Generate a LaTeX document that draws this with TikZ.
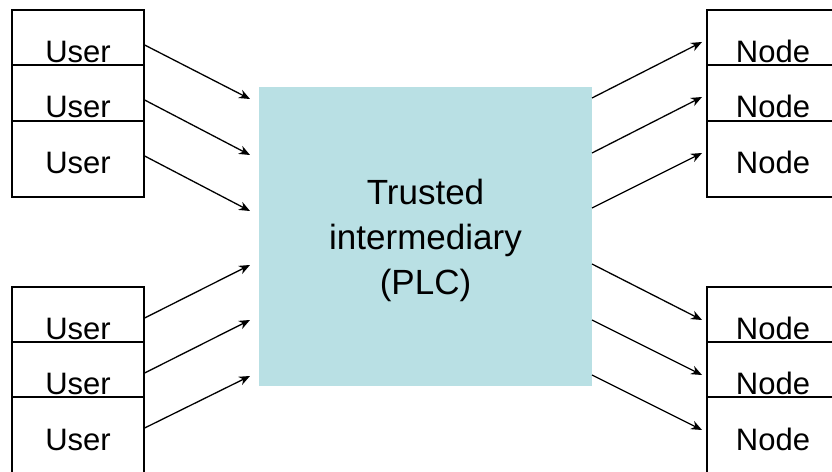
\documentclass[tikz,border=0pt]{standalone}
\usepackage{fontspec}
\setmainfont{Liberation Sans}
\usetikzlibrary{arrows.meta}
\definecolor{plcfill}{RGB}{185,224,228}

\begin{document}
\begin{tikzpicture}[x=1pt, y=1pt,
  every node/.style={font=\fontsize{31}{37}\selectfont},
  party/.style={draw, line width=1.3pt, fill=white, minimum width=132pt,
    minimum height=76pt, inner sep=0pt, text height=30pt, text depth=0pt},
  link/.style={line width=1.3pt, -{Stealth[length=11pt,width=9pt]}}]
\clip (0,0) rectangle (832,471);

% Trusted intermediary in the middle
\node[fill=plcfill, minimum width=333pt, minimum height=299pt, inner sep=0pt] (plc)
  at (425.5,234.5) {};
\node[align=center, font=\fontsize{35}{45}\selectfont] (plctext)
  at ([yshift=-4]plc.center) {Trusted\\intermediary\\(PLC)};

% Users on the left, nodes on the right (y counted from the top)
\foreach \n/\y in {1/48,2/103,3/159,4/325,5/380,6/435} {
  \node[party] (u\n) at (78,471-\y) {User};
  \node[party] (n\n) at (773,471-\y) {Node};
}

% Arrow ends next to the intermediary
\foreach \n/\y/\z in {1/99/42,2/155/97,3/211/153,4/265/320,5/320/375,6/376/430} {
  \coordinate (in\n) at (250,471-\y);
  \coordinate (out\n) at (702,471-\z);
}
\foreach \n/\y in {1/98,2/153,3/208,4/264,5/320,6/375}
  \coordinate (src\n) at (592,471-\y);

% User -> intermediary
\draw[link] ([yshift=3]u1.east) -- (in1);
\draw[link] ([yshift=3]u2.east) -- (in2);
\draw[link] ([yshift=3]u3.east) -- (in3);
\draw[link] ([yshift=7]u4.east) -- (in4);
\draw[link] ([yshift=7]u5.east) -- (in5);
\draw[link] ([yshift=7]u6.east) -- (in6);

% intermediary -> Node
\draw[link] (src1) -- (out1);
\draw[link] (src2) -- (out2);
\draw[link] (src3) -- (out3);
\draw[link] (src4) -- (out4);
\draw[link] (src5) -- (out5);
\draw[link] (src6) -- (out6);
\end{tikzpicture}
\end{document}
